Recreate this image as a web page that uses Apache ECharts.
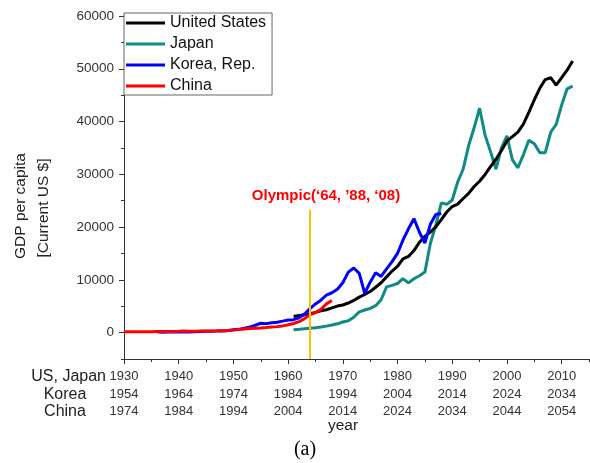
<!DOCTYPE html>
<html>
<head>
<meta charset="utf-8">
<script src="https://cdn.jsdelivr.net/npm/echarts@6/dist/echarts.min.js"></script>
<style>
  html, body { margin: 0; padding: 0; background: #fff; }
  #chart { width: 590px; height: 463px; }
</style>
</head>
<body>
<div id="chart"></div>
<script>
// Tick label rows: US/Japan calendar years, with Korea and China shifted onto the same axis
const usJapanTicks = [1930, 1940, 1950, 1960, 1970, 1980, 1990, 2000, 2010];
const koreaTicks   = [1954, 1964, 1974, 1984, 1994, 2004, 2014, 2024, 2034];
const chinaTicks   = [1974, 1984, 1994, 2004, 2014, 2024, 2034, 2044, 2054];
const koreaShift = 24;
const chinaShift = 44;

const yLabelValues = [0, 10000, 20000, 30000, 40000, 50000, 60000];
const yMinorValues = [-5000, 5000, 15000, 25000, 35000, 45000, 55000];
const xMinorValues = [1935, 1945, 1955, 1965, 1975, 1985, 1995, 2005, 2015];

// GDP per capita, current US$
const usStart = 1961;
const usGdp = [
  3067, 3244, 3375, 3574, 3828, 4146, 4336, 4696, 5032, 5234,
  5609, 6094, 6726, 7226, 7801, 8592, 9453, 10565, 11674, 12575,
  13976, 14434, 15544, 17121, 18237, 19071, 20039, 21417, 22857, 23889,
  24342, 25419, 26387, 27695, 28691, 29968, 31459, 32854, 34516, 36330,
  37134, 37998, 39490, 41725, 44123, 46302, 47955, 48302, 46909, 48310,
  49725, 51457
];

const japanStart = 1961;
const japanGdp = [
  564, 633, 718, 835, 919, 1059, 1229, 1451, 1669, 2004,
  2235, 2918, 3931, 4283, 4582, 5111, 6230, 8675, 8954, 9308,
  10212, 9429, 10214, 10787, 11466, 16882, 20355, 24593, 24313, 25124,
  28541, 31014, 35451, 38815, 42522, 37423, 34295, 30964, 35004, 37292,
  32716, 31236, 33691, 36442, 35781, 34102, 34095, 37972, 39473, 43118,
  46204, 46720
];

const koreaStart = 1960;
const koreaGdp = [
  155, 92, 104, 143, 121, 106, 130, 157, 194, 239,
  279, 300, 322, 404, 561, 615, 830, 1051, 1398, 1773,
  1704, 1870, 1977, 2180, 2390, 2457, 2803, 3511, 4548, 5438,
  6153, 7123, 7555, 8222, 9459, 11468, 12249, 11235, 7463, 9554,
  11346, 10655, 12094, 13451, 15029, 17551, 19676, 21590, 19028, 16959,
  20540, 22388, 22590
];

const chinaStart = 1974;
const chinaGdp = [
  156, 176, 163, 185, 155, 183, 193, 195, 203, 225,
  250, 294, 281, 252, 284, 311, 314, 333, 366, 377,
  473, 604, 703, 775, 821, 865, 949, 1042, 1135, 1274,
  1490, 1731, 2069, 2651, 3414, 3749, 4433, 5447, 6091
];

// Tokyo Olympic year marker
const olympicYear = 1964;
const olympicSpan = [-5000, 23300];

function toPairs(start, values, shift) {
  return values.map((v, i) => [start + i - shift, v]);
}

const FONT = '"Liberation Sans", Arial, sans-serif';
const chart = echarts.init(document.getElementById('chart'), null, { renderer: 'canvas' });

const lineSeries = (name, color, data, z) => ({
  name: name,
  type: 'line',
  data: data,
  showSymbol: false,
  symbol: 'none',
  lineStyle: { width: 3, color: color },
  itemStyle: { color: color },
  z: z,
  animation: false
});

chart.setOption({
  animation: false,
  grid: { left: 124, right: 1, top: 16, bottom: 104, containLabel: false },
  legend: {
    data: ['United States', 'Japan', 'Korea, Rep.', 'China'],
    orient: 'vertical',
    left: 124,
    top: 13,
    icon: 'rect',
    itemWidth: 39,
    itemHeight: 3,
    itemGap: 5,
    padding: [2, 6, 1, 2],
    borderColor: '#666',
    borderWidth: 1,
    backgroundColor: '#fff',
    textStyle: { fontSize: 16, lineHeight: 16, color: '#111', fontFamily: FONT }
  },
  xAxis: [
    {
      type: 'value',
      min: 1930, max: 2015, interval: 5,
      position: 'bottom',
      axisLine: { onZero: false, lineStyle: { color: '#333', width: 1 } },
      axisTick: { customValues: usJapanTicks, length: 5, lineStyle: { color: '#333' } },
      axisLabel: {
        customValues: usJapanTicks,
        margin: 9,
        fontSize: 13,
        lineHeight: 17.5,
        color: '#333',
        fontFamily: FONT,
        formatter: function (v) {
          const i = usJapanTicks.indexOf(v);
          return v + '\n' + koreaTicks[i] + '\n' + chinaTicks[i];
        }
      },
      splitLine: { show: false }
    },
    {
      type: 'value',
      min: 1930, max: 2015, interval: 5,
      position: 'bottom',
      axisLine: { show: false, onZero: false },
      axisTick: { customValues: xMinorValues, length: 3, lineStyle: { color: '#333' } },
      axisLabel: { show: false },
      splitLine: { show: false }
    }
  ],
  yAxis: [
    {
      type: 'value',
      min: -5000, max: 60000, interval: 5000,
      position: 'left',
      axisLine: { show: true, onZero: false, lineStyle: { color: '#333', width: 1 } },
      axisTick: { show: true, customValues: yLabelValues, length: 5, lineStyle: { color: '#333' } },
      axisLabel: {
        customValues: yLabelValues,
        margin: 10,
        fontSize: 13.5,
        color: '#333',
        fontFamily: FONT,
        formatter: function (v) { return String(v); }
      },
      splitLine: { show: false }
    },
    {
      type: 'value',
      min: -5000, max: 60000, interval: 5000,
      position: 'left',
      axisLine: { show: false, onZero: false },
      axisTick: { show: true, customValues: yMinorValues, length: 3, lineStyle: { color: '#333' } },
      axisLabel: { show: false },
      splitLine: { show: false }
    }
  ],
  series: [
    lineSeries('United States', '#000000', toPairs(usStart, usGdp, 0), 3),
    lineSeries('Japan', '#108a85', toPairs(japanStart, japanGdp, 0), 2),
    lineSeries('Korea, Rep.', '#0000ff', toPairs(koreaStart, koreaGdp, koreaShift), 4),
    lineSeries('China', '#ff0000', toPairs(chinaStart, chinaGdp, chinaShift), 5),
    {
      name: 'Olympic',
      type: 'line',
      data: [[olympicYear, olympicSpan[0]], [olympicYear, olympicSpan[1]]],
      symbol: 'none',
      lineStyle: { width: 2, color: '#ffc000' },
      z: 6,
      animation: false
    }
  ],
  graphic: [
    {
      type: 'text', x: 326, y: 196,
      style: {
        text: 'Olympic(\u201864, \u201988, \u201808)',
        fill: '#ff0000', font: 'bold 15px ' + FONT,
        align: 'center', verticalAlign: 'middle'
      }
    },
    {
      type: 'text', x: 21, y: 206, rotation: Math.PI / 2,
      style: { text: 'GDP per capita', fill: '#222', font: '15.5px ' + FONT, align: 'center', verticalAlign: 'middle' }
    },
    {
      type: 'text', x: 44, y: 208, rotation: Math.PI / 2,
      style: { text: '[Current US $]', fill: '#222', font: '15.5px ' + FONT, align: 'center', verticalAlign: 'middle' }
    },
    {
      type: 'text', x: 106, y: 377,
      style: { text: 'US, Japan', fill: '#222', font: '16px ' + FONT, align: 'right', verticalAlign: 'middle' }
    },
    {
      type: 'text', x: 65, y: 394.5,
      style: { text: 'Korea', fill: '#222', font: '16px ' + FONT, align: 'center', verticalAlign: 'middle' }
    },
    {
      type: 'text', x: 65, y: 412,
      style: { text: 'China', fill: '#222', font: '16px ' + FONT, align: 'center', verticalAlign: 'middle' }
    },
    {
      type: 'text', x: 343, y: 426,
      style: { text: 'year', fill: '#222', font: '15.5px ' + FONT, align: 'center', verticalAlign: 'middle' }
    },
    {
      type: 'text', x: 305, y: 450,
      style: { text: '(a)', fill: '#000', font: '20px "Liberation Serif", "Times New Roman", serif', align: 'center', verticalAlign: 'middle' }
    }
  ]
});
</script>
</body>
</html>
